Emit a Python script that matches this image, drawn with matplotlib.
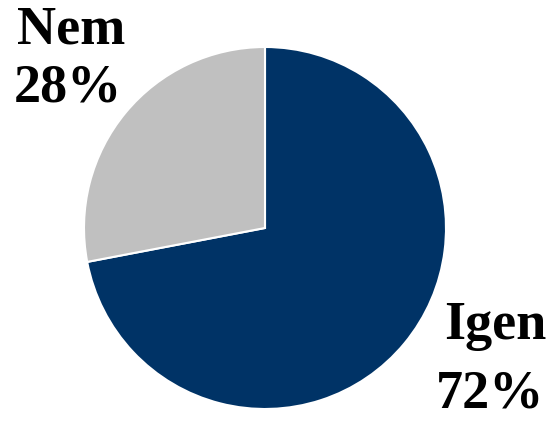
import matplotlib
matplotlib.use("Agg")
import matplotlib.pyplot as plt

labels = ["Igen", "Nem"]
values = [72, 28]
colors = ["#003366", "#C0C0C0"]

W, H = 554, 422
fig = plt.figure(figsize=(W/100, H/100), dpi=100)
cx, cy, r = 265, 228, 181
ax = fig.add_axes([(cx - r)/W, (H - cy - r)/H, 2*r/W, 2*r/H])
ax.pie(values, colors=colors, startangle=90, counterclock=False,
       wedgeprops=dict(edgecolor="white", linewidth=1.5))
ax.set_xlim(-1, 1); ax.set_ylim(-1, 1)
ax.set_aspect("auto")
ax.axis("off")

font = dict(family="Liberation Serif", fontweight="bold", fontsize=39, color="black")
fig.text(71/W, 1 - 30/H, labels[1], ha="center", va="center", **font)
fig.text(68/W, 1 - 88/H, f"{values[1]}%", ha="center", va="center", **font)
fig.text(495/W, 1 - 326/H, labels[0], ha="center", va="center", **font)
fig.text(490/W, 1 - 395/H, f"{values[0]}%", ha="center", va="center", **font)

fig.savefig("out.png", dpi=100)
